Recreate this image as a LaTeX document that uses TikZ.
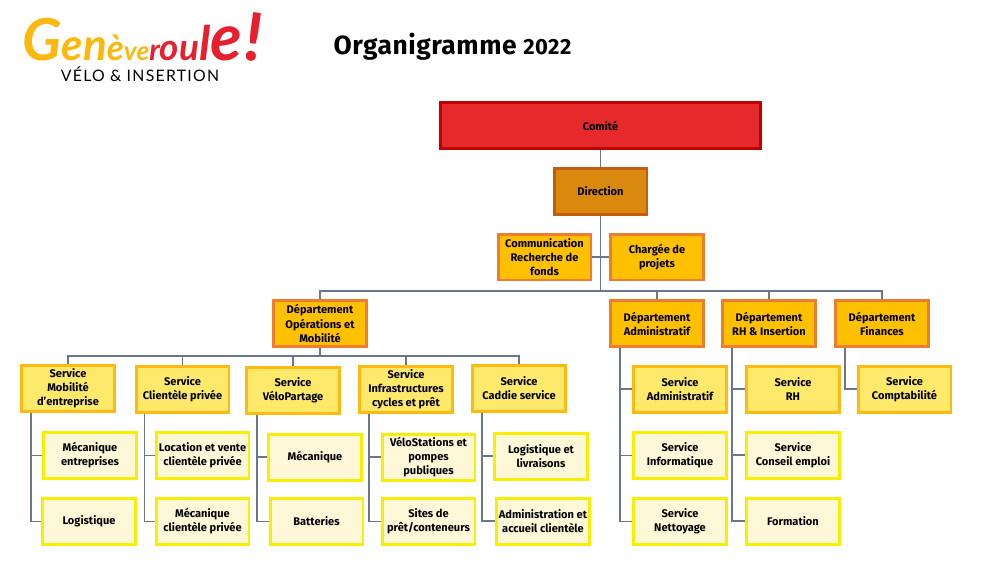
\documentclass[tikz,border=0pt]{standalone}
\usepackage{fontspec}
\setmainfont{Fira Sans}
\newfontfamily\titlefont[LetterSpace=2]{Fira Sans}
\newfontfamily\logofont{Lato}
\newfontfamily\sublogofont[LetterSpace=8]{Lato}
\usepackage{tikz}
\definecolor{comitefill}{HTML}{E62A2B}
\definecolor{comiteline}{HTML}{C00000}
\definecolor{dirfill}{HTML}{D9890D}
\definecolor{dirline}{HTML}{C55A11}
\definecolor{deptfill}{HTML}{FFC000}
\definecolor{deptline}{HTML}{ED7D31}
\definecolor{servfill}{HTML}{FFE96B}
\definecolor{servline}{HTML}{FFBA12}
\definecolor{subfill}{HTML}{FFF8D8}
\definecolor{subline}{HTML}{F9EE00}
\definecolor{linkcol}{HTML}{6B7688}
\definecolor{logoyellow}{HTML}{FBB90F}
\definecolor{logored}{HTML}{E6202E}
\tikzset{
  box/.style={draw,line width=1.7pt,inner sep=0pt,minimum width=1.86cm,minimum height=0.92cm,
    align=center,font=\fontsize{6.3}{8}\selectfont\bfseries,text=black},
  comitebox/.style={box,fill=comitefill,draw=comiteline,minimum width=6.4cm},
  dirbox/.style={box,fill=dirfill,draw=dirline},
  deptbox/.style={box,fill=deptfill,draw=deptline},
  servbox/.style={box,fill=servfill,draw=servline},
  subbox/.style={box,fill=subfill,draw=subline},
  link/.style={draw=linkcol,line width=0.8pt},
}
\begin{document}
\begin{tikzpicture}[x=0.02cm,y=-0.02cm]
    \useasboundingbox (0,0) rectangle (1000,562);
    \node (logo) at (22,60) [anchor=base west,inner sep=0pt] {\logofont\itshape\bfseries
      \color{logoyellow}{\fontsize{33}{33}\selectfont G}{\fontsize{25}{25}\selectfont en}{\fontsize{20}{20}\selectfont è}{\fontsize{15}{15}\selectfont ve}\color{logored}{\fontsize{17}{17}\selectfont r}{\fontsize{21}{21}\selectfont ou}{\fontsize{27}{27}\selectfont l}{\fontsize{37}{37}\selectfont e}} ;
    \node (bang) at (254,37) [rotate=-8,inner sep=0pt,text=logored] {\logofont\bfseries\fontsize{38}{38}\selectfont !} ;
    \node (sublogo) at (140,74) [inner sep=0pt] {\sublogofont\fontsize{9}{9}\selectfont VÉLO \& INSERTION} ;
    \node (title) at (452.5,47) [inner sep=0pt] {\titlefont\bfseries\fontsize{15}{15}\selectfont Organigramme {\fontsize{12.5}{15}\selectfont 2022}} ;

    \node (comite) at (600.5,125.5) [comitebox] {Comité} ;
    \node (direction) at (600.5,191.5) [dirbox] {Direction} ;
    \node (comm) at (544.5,257) [deptbox] {Communication\\Recherche de\\fonds} ;
    \node (projets) at (657,257) [deptbox] {Chargée de\\projets} ;
    \coordinate (trunk) at (600.5,291) ;

    \node (ops) at (320,323.5) [deptbox] {Département\\Opérations et\\Mobilité} ;
    \node (admin) at (657,323.5) [deptbox] {Département\\Administratif} ;
    \node (rh) at (769,323.5) [deptbox] {Département\\RH \& Insertion} ;
    \node (fin) at (882,323.5) [deptbox] {Département\\Finances} ;
    \coordinate (bus) at (320,356) ;

    \node (mob) at (68,388) [servbox] {Service\\Mobilité\\d’entreprise} ;
    \node (client) at (182.5,389) [servbox] {Service\\Clientèle privée} ;
    \node (velo) at (293,390) [servbox] {Service\\VéloPartage} ;
    \node (infra) at (406,389.5) [servbox] {Service\\Infrastructures\\cycles et prêt} ;
    \node (caddie) at (519,388.5) [servbox] {Service\\Caddie service} ;

    \node (mecent) at (90,455.5) [subbox] {Mécanique\\entreprises} ;
    \node (logi) at (89,521.5) [subbox] {Logistique} ;
    \node (loc) at (202.5,455.5) [subbox] {Location et vente\\clientèle privée} ;
    \node (mecpriv) at (202.5,521.5) [subbox] {Mécanique\\clientèle privée} ;
    \node (meca) at (315,457) [subbox] {Mécanique} ;
    \node (batt) at (316.5,521.5) [subbox] {Batteries} ;
    \node (stations) at (428.5,457) [subbox] {VéloStations et\\pompes\\publiques} ;
    \node (sites) at (428.5,521.5) [subbox] {Sites de\\prêt/conteneurs} ;
    \node (livr) at (541,456) [subbox] {Logistique et\\livraisons} ;
    \node (accueil) at (543,521) [subbox] {Administration et\\accueil clientèle} ;

    \node (servadmin) at (680,389) [servbox] {Service\\Administratif} ;
    \node (info) at (680,455.5) [subbox] {Service\\Informatique} ;
    \node (nett) at (680,521.5) [subbox] {Service\\Nettoyage} ;
    \node (servrh) at (793,389) [servbox] {Service\\RH} ;
    \node (conseil) at (793,455) [subbox] {Service\\Conseil emploi} ;
    \node (form) at (793,521) [subbox] {Formation} ;
    \node (compta) at (904.5,389) [servbox] {Service\\Comptabilité} ;

    \draw[link] (comite) to (direction);
    \draw[link] (direction) to (trunk);
    \draw[link] (comm) to (projets);
    \draw[link] (trunk) -| (ops);
    \draw[link] (trunk) -| (admin);
    \draw[link] (trunk) -| (rh);
    \draw[link] (trunk) -| (fin);
    \draw[link] (ops) to (bus);
    \draw[link] (bus) -| (mob);
    \draw[link] (bus) -| (client);
    \draw[link] (bus) -| (velo);
    \draw[link] (bus) -| (infra);
    \draw[link] (bus) -| (caddie);

    \draw[link] ([xshift=0.22cm]mob.south west) |- (mecent);
    \draw[link] ([xshift=0.22cm]mob.south west) |- (logi);
    \draw[link] ([xshift=0.2cm]client.south west) |- (loc);
    \draw[link] ([xshift=0.2cm]client.south west) |- (mecpriv);
    \draw[link] ([xshift=0.24cm]velo.south west) |- (meca);
    \draw[link] ([xshift=0.24cm]velo.south west) |- (batt);
    \draw[link] ([xshift=0.22cm]infra.south west) |- (stations);
    \draw[link] ([xshift=0.22cm]infra.south west) |- (sites);
    \draw[link] ([xshift=0.22cm]caddie.south west) |- (livr);
    \draw[link] ([xshift=0.22cm]caddie.south west) |- (accueil);
    \draw[link] ([xshift=0.22cm]admin.south west) |- (servadmin);
    \draw[link] ([xshift=0.22cm]admin.south west) |- (info);
    \draw[link] ([xshift=0.22cm]admin.south west) |- (nett);
    \draw[link] ([xshift=0.22cm]rh.south west) |- (servrh);
    \draw[link] ([xshift=0.22cm]rh.south west) |- (conseil);
    \draw[link] ([xshift=0.22cm]rh.south west) |- (form);
    \draw[link] ([xshift=0.22cm]fin.south west) |- (compta);
  \end{tikzpicture}
\end{document}
